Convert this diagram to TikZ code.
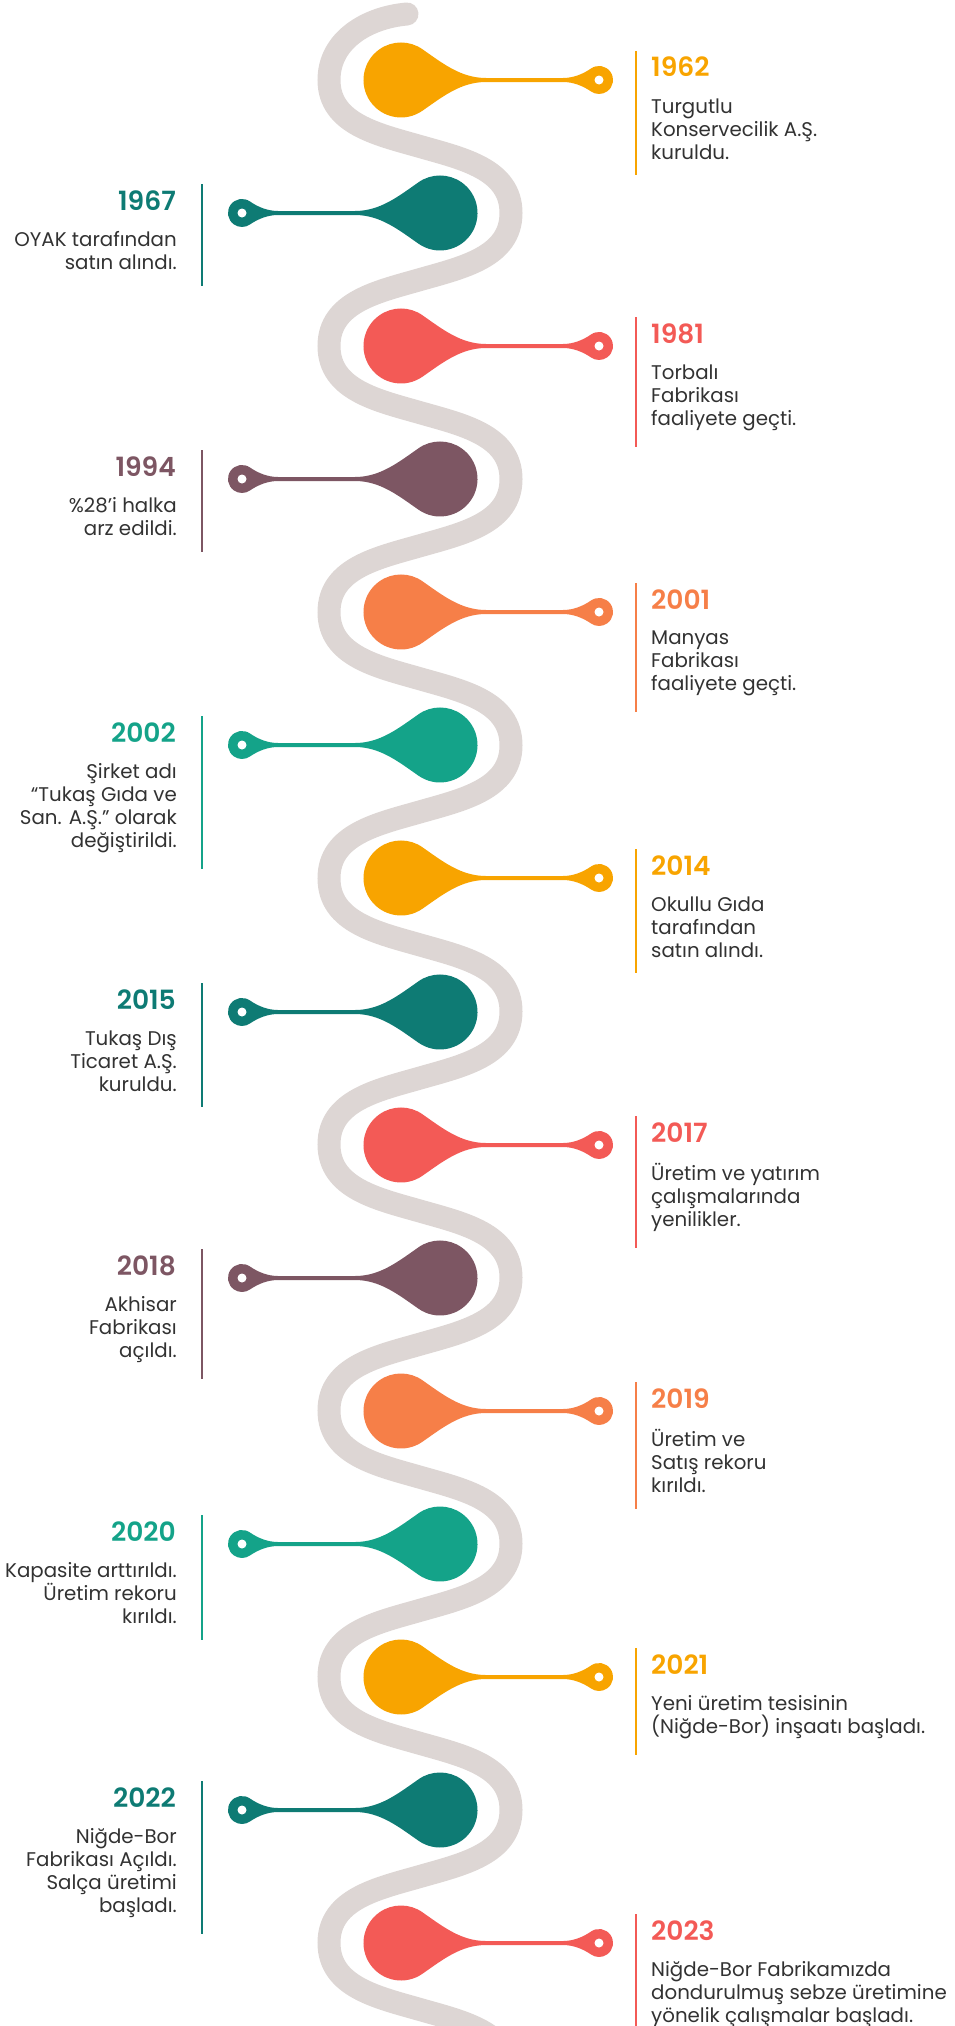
\documentclass[tikz,border=0pt]{standalone}
\usepackage{fontspec}
\setmainfont{Poppins}[BoldFont={Poppins SemiBold}]
\usetikzlibrary{positioning}

\definecolor{trackgrey}{RGB}{221,214,212}
\definecolor{textgrey}{RGB}{50,50,50}
\definecolor{cyellow}{RGB}{248,164,0}
\definecolor{cteal}{RGB}{14,123,116}
\definecolor{ccoral}{RGB}{243,90,86}
\definecolor{cmauve}{RGB}{125,86,99}
\definecolor{corange}{RGB}{246,127,72}
\definecolor{cgreen}{RGB}{20,163,137}

\begin{document}
\begin{tikzpicture}[x=1pt, y=1pt]
    \tikzset{
        track/.style={draw=trackgrey, line width=23pt, line cap=round},
        year/.style={font=\fontsize{26.5}{30}\selectfont\bfseries, inner sep=0pt},
        yearR/.style={year, anchor=base west},
        yearL/.style={year, anchor=base east},
        body/.style={font=\fontsize{19.8}{23}\selectfont, text=textgrey, inner sep=0pt},
        bodyR/.style={body, align=left},
        bodyL/.style={body, align=right},
        bar/.style={line width=2pt},
        pics/drop/.style={code={
            \fill[#1] (21.5,30.7) .. controls (42,16.4) and (60,2) .. (85,2) -- (162,2)
                .. controls (172,2) and (181.8,5.8) .. (190,11.5)
                arc[start angle=125, end angle=-125, radius=14]
                .. controls (181.8,-5.8) and (172,-2) .. (162,-2) -- (85,-2)
                .. controls (60,-2) and (42,-16.4) .. (21.5,-30.7)
                arc[start angle=-55, end angle=-305, radius=37.5] -- cycle;
            \fill[white] (198,0) circle (4.5);
        }}
    }
    \useasboundingbox (0,0) rectangle (954,-2026);
    \clip (0,0) rectangle (954,-2026);

    \draw[track] (407,-14) to[out=185, in=90] (329,-80)
        \foreach \k in {0,...,7} {
            to[out=-90, in=164] (420,{-146.5-266.14*\k})
            to[out=-16, in=90] (511,{-213-266.14*\k})
            to[out=-90, in=16] (420,{-279.6-266.14*\k})
            to[out=196, in=90] (329,{-346-266.14*\k})
        };

    % 1962
    \pic (d1962) at (401,-80) {drop=cyellow};
    \node[yearR, text=cyellow] (y1962) at (651,-77) {1962};
    \node[bodyR, below right=21pt and 0pt of y1962.south west] (t1962) {Turgutlu\\Konservecilik A.Ş.\\kuruldu.};
    \draw[bar, cyellow] ([shift={(-15,6)}]y1962.north west) -- ([shift={(-15,-16)}]t1962.south west);

    % 1967
    \pic[xscale=-1] (d1967) at (440,-213) {drop=cteal};
    \node[yearL, text=cteal] (y1967) at (176,-210) {1967};
    \node[bodyL, below left=21pt and -1pt of y1967.south east] (t1967) {OYAK tarafından\\satın alındı.};
    \draw[bar, cteal] ([shift={(26,6)}]y1967.north east) -- ([shift={(25,-16)}]t1967.south east);

    % 1981
    \pic (d1981) at (401,-346) {drop=ccoral};
    \node[yearR, text=ccoral] (y1981) at (651,-343) {1981};
    \node[bodyR, below right=21pt and 0pt of y1981.south west] (t1981) {Torbalı\\Fabrikası\\faaliyete geçti.};
    \draw[bar, ccoral] ([shift={(-15,6)}]y1981.north west) -- ([shift={(-15,-16)}]t1981.south west);

    % 1994
    \pic[xscale=-1] (d1994) at (440,-479) {drop=cmauve};
    \node[yearL, text=cmauve] (y1994) at (176,-476) {1994};
    \node[bodyL, below left=21pt and -1pt of y1994.south east] (t1994) {\%28'i halka\\arz edildi.};
    \draw[bar, cmauve] ([shift={(26,6)}]y1994.north east) -- ([shift={(25,-16)}]t1994.south east);

    % 2001
    \pic (d2001) at (401,-612) {drop=corange};
    \node[yearR, text=corange] (y2001) at (651,-609) {2001};
    \node[bodyR, below right=21pt and 0pt of y2001.south west] (t2001) {Manyas\\Fabrikası\\faaliyete geçti.};
    \draw[bar, corange] ([shift={(-15,6)}]y2001.north west) -- ([shift={(-15,-16)}]t2001.south west);

    % 2002
    \pic[xscale=-1] (d2002) at (440,-745) {drop=cgreen};
    \node[yearL, text=cgreen] (y2002) at (176,-742) {2002};
    \node[bodyL, below left=21pt and -1pt of y2002.south east] (t2002) {Şirket adı\\``Tukaş Gıda ve\\San. A.Ş.'' olarak\\değiştirildi.};
    \draw[bar, cgreen] ([shift={(26,6)}]y2002.north east) -- ([shift={(25,-16)}]t2002.south east);

    % 2014
    \pic (d2014) at (401,-878) {drop=cyellow};
    \node[yearR, text=cyellow] (y2014) at (651,-875) {2014};
    \node[bodyR, below right=21pt and 0pt of y2014.south west] (t2014) {Okullu Gıda\\tarafından\\satın alındı.};
    \draw[bar, cyellow] ([shift={(-15,6)}]y2014.north west) -- ([shift={(-15,-16)}]t2014.south west);

    % 2015
    \pic[xscale=-1] (d2015) at (440,-1012) {drop=cteal};
    \node[yearL, text=cteal] (y2015) at (176,-1009) {2015};
    \node[bodyL, below left=21pt and -1pt of y2015.south east] (t2015) {Tukaş Dış\\Ticaret A.Ş.\\kuruldu.};
    \draw[bar, cteal] ([shift={(26,6)}]y2015.north east) -- ([shift={(25,-16)}]t2015.south east);

    % 2017
    \pic (d2017) at (401,-1145) {drop=ccoral};
    \node[yearR, text=ccoral] (y2017) at (651,-1142) {2017};
    \node[bodyR, below right=21pt and 0pt of y2017.south west] (t2017) {Üretim ve yatırım\\çalışmalarında\\yenilikler.};
    \draw[bar, ccoral] ([shift={(-15,6)}]y2017.north west) -- ([shift={(-15,-16)}]t2017.south west);

    % 2018
    \pic[xscale=-1] (d2018) at (440,-1278) {drop=cmauve};
    \node[yearL, text=cmauve] (y2018) at (176,-1275) {2018};
    \node[bodyL, below left=21pt and -1pt of y2018.south east] (t2018) {Akhisar\\Fabrikası\\açıldı.};
    \draw[bar, cmauve] ([shift={(26,6)}]y2018.north east) -- ([shift={(25,-16)}]t2018.south east);

    % 2019
    \pic (d2019) at (401,-1411) {drop=corange};
    \node[yearR, text=corange] (y2019) at (651,-1408) {2019};
    \node[bodyR, below right=21pt and 0pt of y2019.south west] (t2019) {Üretim ve\\Satış rekoru\\kırıldı.};
    \draw[bar, corange] ([shift={(-15,6)}]y2019.north west) -- ([shift={(-15,-16)}]t2019.south west);

    % 2020
    \pic[xscale=-1] (d2020) at (440,-1544) {drop=cgreen};
    \node[yearL, text=cgreen] (y2020) at (176,-1541) {2020};
    \node[bodyL, below left=21pt and -1pt of y2020.south east] (t2020) {Kapasite arttırıldı.\\Üretim rekoru\\kırıldı.};
    \draw[bar, cgreen] ([shift={(26,6)}]y2020.north east) -- ([shift={(25,-16)}]t2020.south east);

    % 2021
    \pic (d2021) at (401,-1677) {drop=cyellow};
    \node[yearR, text=cyellow] (y2021) at (651,-1674) {2021};
    \node[bodyR, below right=21pt and 0pt of y2021.south west] (t2021) {Yeni üretim tesisinin\\(Niğde-Bor) inşaatı başladı.};
    \draw[bar, cyellow] ([shift={(-15,6)}]y2021.north west) -- ([shift={(-15,-16)}]t2021.south west);

    % 2022
    \pic[xscale=-1] (d2022) at (440,-1810) {drop=cteal};
    \node[yearL, text=cteal] (y2022) at (176,-1807) {2022};
    \node[bodyL, below left=21pt and -1pt of y2022.south east] (t2022) {Niğde-Bor\\Fabrikası Açıldı.\\Salça üretimi\\başladı.};
    \draw[bar, cteal] ([shift={(26,6)}]y2022.north east) -- ([shift={(25,-16)}]t2022.south east);

    % 2023
    \pic (d2023) at (401,-1943) {drop=ccoral};
    \node[yearR, text=ccoral] (y2023) at (651,-1940) {2023};
    \node[bodyR, below right=21pt and 0pt of y2023.south west] (t2023) {Niğde-Bor Fabrikamızda\\dondurulmuş sebze üretimine\\yönelik çalışmalar başladı.};
    \draw[bar, ccoral] ([shift={(-15,6)}]y2023.north west) -- ([shift={(-15,-16)}]t2023.south west);

\end{tikzpicture}
\end{document}
